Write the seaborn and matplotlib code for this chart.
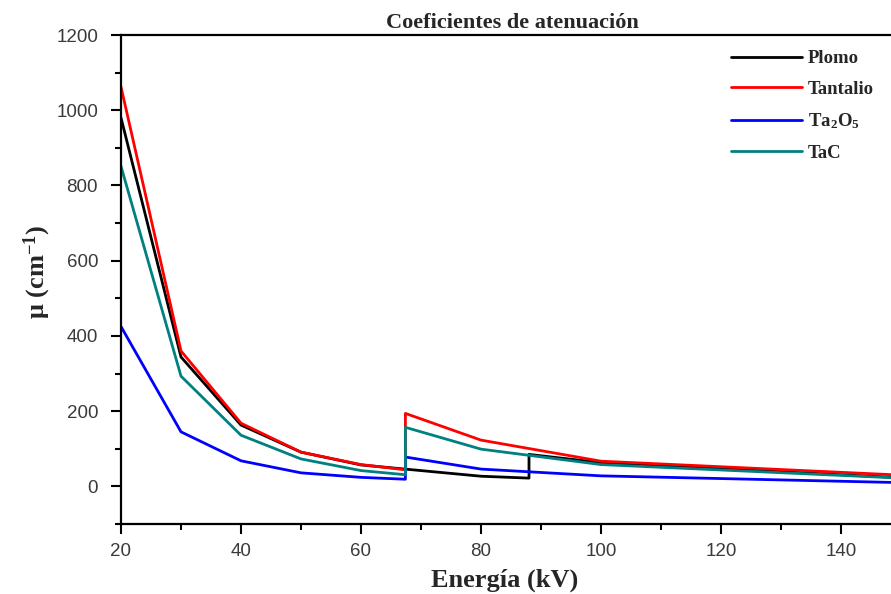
import matplotlib
matplotlib.use("Agg")
import matplotlib.pyplot as plt
import seaborn as sns
import pandas as pd
from matplotlib.lines import Line2D
from matplotlib.ticker import MultipleLocator

# ---- data ----
materials = ["Plomo", "Tantalio", "Ta$_2$O$_5$", "TaC"]
colors = ["#000000", "#ff0000", "#0000ff", "#008080"]

E_plomo = [20, 30, 40, 50, 60, 80, 88, 88, 100, 150]
mu_plomo = [980, 344, 163, 91, 57, 27, 22, 85, 63, 23]

E_ta = [20, 30, 40, 50, 60, 67.4, 67.4, 80, 100, 150]
mu_tantalio = [1062, 360, 168, 91, 58, 44, 194, 123, 67, 30]
mu_ta2o5 = [425, 145, 68, 36, 24, 19, 78, 46, 28, 10]
mu_tac = [851, 293, 136, 73, 42, 31, 157, 99, 58, 22]

x_ticks = [20, 40, 60, 80, 100, 120, 140]
y_ticks = [0, 200, 400, 600, 800, 1000, 1200]

frames = []
for name, E, mu in [(materials[0], E_plomo, mu_plomo),
                    (materials[1], E_ta, mu_tantalio),
                    (materials[2], E_ta, mu_ta2o5),
                    (materials[3], E_ta, mu_tac)]:
    frames.append(pd.DataFrame({"E": E, "mu": mu, "Material": name,
                                "order": range(len(E))}))
df = pd.concat(frames, ignore_index=True)

# ---- style ----
sns.set_style("ticks")
plt.rcParams["font.family"] = ["Liberation Sans", "DejaVu Sans"]
plt.rcParams["mathtext.fontset"] = "custom"
plt.rcParams["mathtext.rm"] = "Liberation Serif:bold"
plt.rcParams["mathtext.it"] = "Liberation Serif:italic:bold"
plt.rcParams["mathtext.bf"] = "Liberation Serif:bold"

fig = plt.figure(figsize=(8.91, 5.94), dpi=100)
ax = fig.add_axes([121 / 891, 70 / 594, 1 - 121 / 891, (525 - 36) / 594])

palette = dict(zip(materials, colors))
sns.lineplot(data=df, x="E", y="mu", hue="Material", units="Material",
             estimator=None, sort=False, palette=palette, linewidth=2.0,
             legend=False, ax=ax)

ax.set_xlim(20, 20 + (891 - 121) / 6.0)
ax.set_ylim(-100, 1200)
ax.set_xticks(x_ticks)
ax.set_yticks(y_ticks)
ax.xaxis.set_minor_locator(MultipleLocator(10))
ax.yaxis.set_minor_locator(MultipleLocator(100))

for s in ["left", "bottom", "top"]:
    ax.spines[s].set_linewidth(1.6)
    ax.spines[s].set_color("black")
ax.spines["right"].set_visible(False)

ax.tick_params(axis="both", which="major", direction="out", length=7.5,
               width=1.5, color="black", labelsize=13.5, labelcolor="#3a3a3a")
ax.tick_params(axis="both", which="minor", direction="out", length=4,
               width=1.5, color="black")
ax.tick_params(axis="y", which="major", pad=9)
ax.tick_params(axis="x", which="major", pad=6)
ax.tick_params(top=False, right=False, which="both")

ax.set_xlabel("")
ax.set_ylabel("")
serif = ["Liberation Serif", "DejaVu Serif"]
fig.text(505 / 891, 1 - 580 / 594, "Energía (kV)", ha="center", va="center",
         fontsize=19, fontweight="bold", family=serif)
fig.text(37 / 891, 1 - 272 / 594, "μ (cm$^{-1}$)", ha="center", va="center",
         rotation=90, fontsize=19, fontweight="bold", family=serif)
fig.text(512 / 891, 1 - 23 / 594, "Coeficientes de atenuación", ha="center",
         va="center", fontsize=16, fontweight="bold", family=serif)

handles = [Line2D([], [], color=c, linewidth=2.0) for c in colors]
leg = fig.legend(handles, materials, loc="upper left",
                 bbox_to_anchor=(731 / 891, 1 - 50 / 594),
                 frameon=False, handlelength=3.8, handletextpad=0.3,
                 borderpad=0, borderaxespad=0, labelspacing=0.72,
                 prop={"family": serif, "weight": "bold", "size": 13.5})

fig.savefig("out.png", dpi=100)
